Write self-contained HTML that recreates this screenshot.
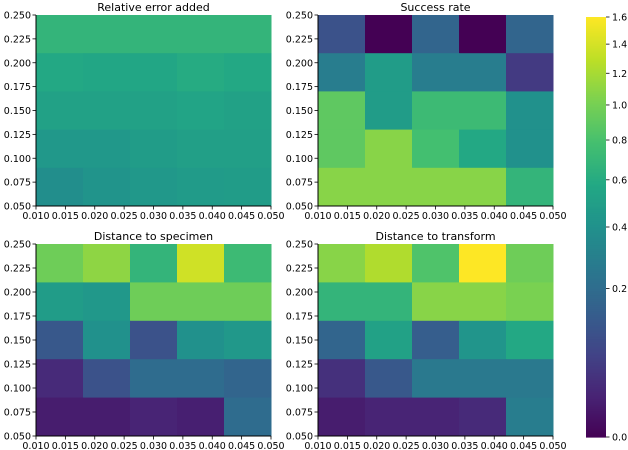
<!DOCTYPE html>
<html><head><meta charset="utf-8"><style>
body{margin:0;background:#fff;}
svg{display:block;font-family:"DejaVu Sans","Liberation Sans",sans-serif;}
</style></head><body>
<svg id="chart" width="628" height="450" viewBox="0 0 628 450"></svg>
<script>
const xTicks=["0.010","0.015","0.020","0.025","0.030","0.035","0.040","0.045","0.050"];
const yTicks=["0.050","0.075","0.100","0.125","0.150","0.175","0.200","0.225","0.250"];
const cbTicks=[0,0.2,0.4,0.6,0.8,1.0,1.2,1.4,1.6];
const titles=["Relative error added","Success rate","Distance to specimen","Distance to transform"];
// rows listed top (y=0.21-0.25) to bottom (y=0.05-0.09)
const relErr=[[0.68,0.68,0.68,0.68,0.68],[0.58,0.56,0.56,0.6,0.58],[0.52,0.52,0.52,0.54,0.52],[0.45,0.45,0.48,0.5,0.5],[0.38,0.42,0.45,0.47,0.48]];
const success=[[0.1,0,0.17,0,0.17],[0.28,0.48,0.28,0.28,0.046],[0.9,0.48,0.74,0.74,0.4],[0.9,1.08,0.78,0.58,0.4],[1.08,1.08,1.08,1.08,0.68]];
const specimen=[[0.97,1.1,0.68,1.38,0.74],[0.48,0.45,0.97,0.97,0.97],[0.12,0.4,0.1,0.4,0.45],[0.023,0.1,0.2,0.2,0.17],[0.01,0.01,0.016,0.012,0.2]];
const transform=[[1.08,1.24,0.83,1.6,0.97],[0.68,0.68,1.08,1.08,1.02],[0.17,0.52,0.14,0.43,0.58],[0.03,0.12,0.26,0.26,0.26],[0.01,0.016,0.016,0.023,0.28]];
const datasets=[relErr,success,specimen,transform];
const VMAX=1.6;
const vir=["#440154","#482475","#414487","#355f8d","#2a788e","#21918c","#22a884","#44bf70","#7ad151","#bddf26","#fde725"];
function hex(h){return [1,3,5].map(i=>parseInt(h.substr(i,2),16));}
function viridis(t){t=Math.max(0,Math.min(1,t));const p=t*10,i=Math.min(9,Math.floor(p)),f=p-i;const a=hex(vir[i]),b=hex(vir[i+1]);return "rgb("+a.map((v,k)=>Math.round(v+(b[k]-v)*f)).join(",")+")";}
function norm(v){return Math.sqrt(Math.max(0,v)/VMAX);}
const NS="http://www.w3.org/2000/svg";
const svg=document.getElementById("chart");
function mk(tag,attrs,parent){const e=document.createElementNS(NS,tag);for(const k in attrs)e.setAttribute(k,attrs[k]);(parent||svg).appendChild(e);return e;}
const panels=[{x0:36,x1:271,y0:15,y1:206},{x0:318,x1:553,y0:15,y1:206},{x0:36,x1:271,y0:244,y1:436},{x0:318,x1:553,y0:244,y1:436}];
panels.forEach((p,pi)=>{
  const g=mk("g",{});
  
  
  const sx=v=>p.x0+(v-0.01)/0.04*(p.x1-p.x0);
  const sy=v=>p.y1-(v-0.05)/0.2*(p.y1-p.y0);
  const data=datasets[pi];
  data.forEach((row,ri)=>row.forEach((v,ci)=>{
    const xa=0.01+ci*0.008,xb=xa+0.008;
    const yb=0.25-ri*0.04,ya=yb-0.04;
    const r=mk("rect",{x:sx(xa),y:sy(yb),width:sx(xb)-sx(xa)+0.5,height:sy(ya)-sy(yb)+0.5,fill:viridis(norm(v))},g);
    
    
  }));
  mk("line",{x1:p.x0,y1:p.y0,x2:p.x0,y2:p.y1,stroke:"#000","stroke-width":1},g);
  mk("line",{x1:p.x0,y1:p.y1,x2:p.x1,y2:p.y1,stroke:"#000","stroke-width":1},g);
  xTicks.forEach(t=>{const x=sx(parseFloat(t));
    mk("line",{x1:x,y1:p.y1,x2:x,y2:p.y1+3.5,stroke:"#000","stroke-width":0.8},g);
    const tx=mk("text",{x:x,y:p.y1+13,"font-size":"9.5","text-anchor":"middle",fill:"#000"},g);tx.textContent=t;
    
    
  });
  yTicks.forEach(t=>{const y=sy(parseFloat(t));
    mk("line",{x1:p.x0-3.5,y1:y,x2:p.x0,y2:y,stroke:"#000","stroke-width":0.8},g);
    const tx=mk("text",{x:p.x0-5,y:y+3.5,"font-size":"9.5","text-anchor":"end",fill:"#000"},g);tx.textContent=t;
    
    
  });
  const tt=mk("text",{x:(p.x0+p.x1)/2,y:p.y0-4,"font-size":"11","text-anchor":"middle",fill:"#000"},g);
  tt.textContent=titles[pi];
  
  
});
// colorbar
const cb=mk("g",{});


const cbx=586,cbw=20,cbTop=17,cbBot=437;
for(let i=0;i<210;i++){const t=i/210;const y=cbBot-(i+1)*(cbBot-cbTop)/210;
  mk("rect",{x:cbx,y:y,width:cbw,height:(cbBot-cbTop)/210+0.6,fill:viridis(t+0.5/210)},cb);}
cbTicks.forEach(v=>{const y=cbBot-norm(v)*(cbBot-cbTop);
  mk("line",{x1:cbx+cbw,y1:y,x2:cbx+cbw+3.5,y2:y,stroke:"#000","stroke-width":0.8},cb);
  const tx=mk("text",{x:cbx+cbw+6,y:y+3.5,"font-size":"9.5",fill:"#000"},cb);tx.textContent=v.toFixed(1);
  
  
});
</script>
</body></html>
